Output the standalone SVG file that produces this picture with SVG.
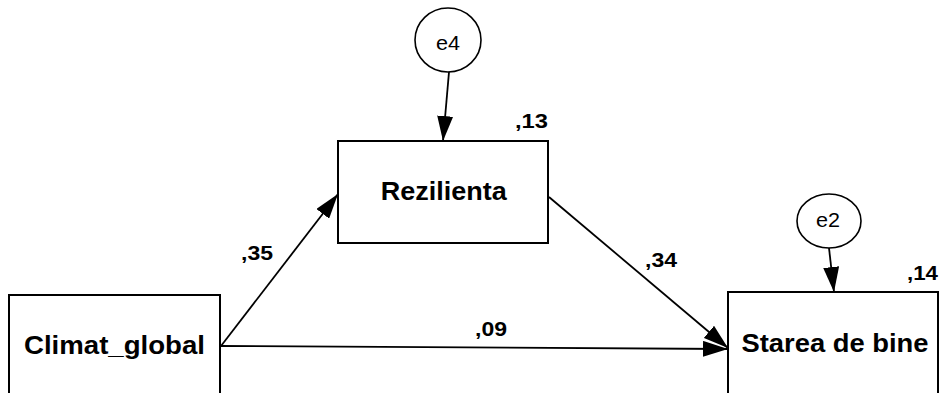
<svg xmlns="http://www.w3.org/2000/svg" width="939" height="393" viewBox="0 0 939 393">
<style>
.box{fill:#fff;stroke:#000;stroke-width:2}
.err{fill:#fff;stroke:#000;stroke-width:1.6}
.lbl{font-family:"Liberation Sans",Arial,sans-serif;font-weight:bold;font-size:25px;fill:#000;text-anchor:middle}
.etx{font-family:"Liberation Sans",Arial,sans-serif;font-size:21px;fill:#000;text-anchor:middle}
.num{font-family:"Liberation Sans",Arial,sans-serif;font-weight:bold;font-size:21px;fill:#000}
.con{stroke:#000;stroke-width:1.8;fill:none;marker-end:url(#ah)}
</style>
<defs>
<marker id="ah" markerUnits="userSpaceOnUse" markerWidth="25" markerHeight="16" refX="25" refY="8" orient="auto">
<path d="M0,0 L25,8 L0,16 z" fill="#000"/>
</marker>
</defs>
<rect width="939" height="393" fill="#fff"/>
<g id="connectors">
<line class="con" x1="449" y1="72" x2="443" y2="141"/>
<line class="con" x1="829" y1="248" x2="834" y2="292"/>
<line class="con" x1="221" y1="346" x2="338" y2="194"/>
<line class="con" x1="221" y1="346" x2="728" y2="349"/>
<line class="con" x1="549" y1="197" x2="728" y2="348"/>
</g>
<g id="e4">
<ellipse class="err" cx="448" cy="40" rx="33" ry="32"/>
<text class="etx" x="448" y="50" textLength="24" lengthAdjust="spacingAndGlyphs">e4</text>
</g>
<g id="e2">
<ellipse class="err" cx="829" cy="221" rx="32" ry="27"/>
<text class="etx" x="828" y="227" textLength="24" lengthAdjust="spacingAndGlyphs">e2</text>
</g>
<g id="rezilienta">
<rect class="box" x="338" y="141" width="210" height="102"/>
<text class="lbl" x="443.7" y="200" textLength="126" lengthAdjust="spacingAndGlyphs">Rezilienta</text>
<text class="num" x="515" y="128" textLength="33" lengthAdjust="spacingAndGlyphs">,13</text>
</g>
<g id="climat_global">
<rect class="box" x="9" y="295" width="211" height="102"/>
<text class="lbl" x="114.5" y="354" textLength="181" lengthAdjust="spacingAndGlyphs">Climat_global</text>
</g>
<g id="starea_de_bine">
<rect class="box" x="728" y="292" width="210" height="102"/>
<text class="lbl" x="835" y="352" textLength="187" lengthAdjust="spacingAndGlyphs">Starea de bine</text>
<text class="num" x="907" y="280" textLength="31" lengthAdjust="spacingAndGlyphs">,14</text>
</g>
<g id="labels">
<text class="num" x="241" y="260" textLength="32" lengthAdjust="spacingAndGlyphs">,35</text>
<text class="num" x="645" y="267" textLength="32" lengthAdjust="spacingAndGlyphs">,34</text>
<text class="num" x="475" y="336" textLength="32" lengthAdjust="spacingAndGlyphs">,09</text>
</g>
</svg>
